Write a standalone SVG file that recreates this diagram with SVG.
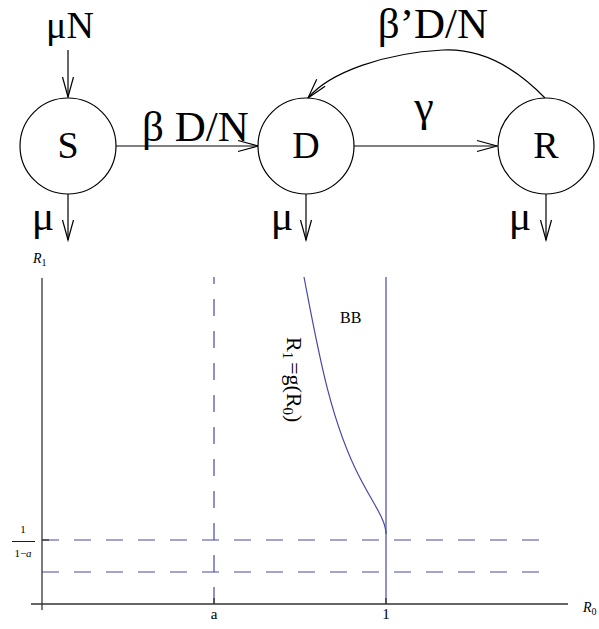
<svg xmlns="http://www.w3.org/2000/svg" width="599" height="629" viewBox="0 0 599 629">
  <style>
    .node circle { fill: #fff; stroke: #000; stroke-width: 1.2; }
    .big { font-family: "Liberation Serif", "Times New Roman", serif; font-size: 38px; fill: #000; }
    .rate { font-size: 43px; }
    .edge { fill: none; stroke: #000; stroke-width: 1.2; marker-end: url(#vee); }
    .axis { stroke: #333; stroke-width: 1.3; fill: none; }
    .blue { stroke: #4848a8; stroke-width: 1.2; fill: none; }
    .dash { stroke-dasharray: 17 15; }
    .lab { font-family: "Liberation Serif", "Times New Roman", serif; fill: #000; }
  </style>
  <defs>
    <marker id="vee" markerUnits="userSpaceOnUse" markerWidth="24" markerHeight="14" viewBox="-21 -7 24 14" refX="0" refY="0" orient="auto">
      <path d="M-20,-5.5 L0,0 L-20,5.5" fill="none" stroke="#000" stroke-width="1.2"/>
    </marker>
  </defs>

  <rect width="599" height="629" fill="#fff"/>

  <!-- compartment model: connectors -->
  <g id="connectors">
    <path class="edge" d="M68,50 L68,97"/>
    <path class="edge" d="M68,194 L68,240"/>
    <path class="edge" d="M116,146 L258,146"/>
    <path class="edge" d="M306,194 L306,240"/>
    <path class="edge" d="M354,146 L497,146"/>
    <path class="edge" d="M546,194 L546,240"/>
    <path class="edge" d="M545,98 C518,70 485,48 443,50 C385,53 330,72 308,98"/>
  </g>

  <!-- edge labels -->
  <g id="edge-labels" class="big">
    <text x="70" y="38" text-anchor="middle">μN</text>
    <text x="43" y="230" text-anchor="middle" font-size="42">μ</text>
    <text class="rate" x="142" y="141">β D/N</text>
    <text x="282" y="230" text-anchor="middle" font-size="42">μ</text>
    <text x="424" y="121" text-anchor="middle" font-size="44">γ</text>
    <text class="rate" x="433" y="38" text-anchor="middle">β’D/N</text>
    <text x="520" y="230" text-anchor="middle" font-size="42">μ</text>
  </g>

  <g id="S" class="node">
    <circle cx="68" cy="146" r="48"/>
    <text class="big" x="68" y="158" text-anchor="middle">S</text>
  </g>
  <g id="D" class="node">
    <circle cx="306" cy="146" r="48"/>
    <text class="big" x="306" y="158" text-anchor="middle">D</text>
  </g>
  <g id="R" class="node">
    <circle cx="546" cy="146" r="48"/>
    <text class="big" x="546" y="158" text-anchor="middle">R</text>
  </g>

  <!-- R0-R1 plane -->
  <g id="plot">
    <!-- threshold lines -->
    <line class="blue dash" x1="214" y1="604" x2="214" y2="277"/>
    <line class="blue dash" x1="42" y1="540" x2="546" y2="540"/>
    <line class="blue dash" x1="42" y1="572" x2="546" y2="572"/>
    <line class="blue" x1="386" y1="277" x2="386" y2="604"/>
    <!-- boundary curve R1 = g(R0) -->
    <path class="blue" d="M304,277 C318,350 330,420 360,478 C374,505 386,520 386,534"/>

    <!-- axes and ticks -->
    <line class="axis" x1="42" y1="278" x2="42" y2="610"/>
    <line class="axis" x1="31" y1="604" x2="568" y2="604"/>
    <line class="axis" x1="42" y1="540" x2="49" y2="540"/>
    <line class="axis" x1="214" y1="604" x2="214" y2="598"/>
    <line class="axis" x1="386" y1="604" x2="386" y2="598"/>

    <!-- axis labels -->
    <text class="lab" x="33" y="263" font-size="14" font-style="italic">R<tspan font-size="10" font-style="normal" dy="3">1</tspan></text>
    <text class="lab" x="583" y="612" font-size="14" font-style="italic">R<tspan font-size="10" font-style="normal" dy="3">0</tspan></text>
    <text class="lab" x="214" y="619" font-size="15" text-anchor="middle">a</text>
    <text class="lab" x="386" y="619" font-size="15" text-anchor="middle">1</text>

    <!-- 1/(1-a) on the R1 axis -->
    <text class="lab" x="23" y="533" font-size="11" text-anchor="middle">1</text>
    <line x1="12" y1="541.5" x2="35" y2="541.5" stroke="#000" stroke-width="0.9"/>
    <text class="lab" x="23" y="557" font-size="11" text-anchor="middle">1−<tspan font-style="italic">a</tspan></text>

    <!-- region and curve labels -->
    <text class="lab" x="340" y="323" font-size="16">BB</text>
    <text class="lab" font-size="22" transform="translate(287,337) rotate(90)">R<tspan font-size="15" dy="4">1</tspan><tspan dy="-4" dx="3">=g(R</tspan><tspan font-size="15" dy="4">0</tspan><tspan dy="-4">)</tspan></text>
  </g>
</svg>
